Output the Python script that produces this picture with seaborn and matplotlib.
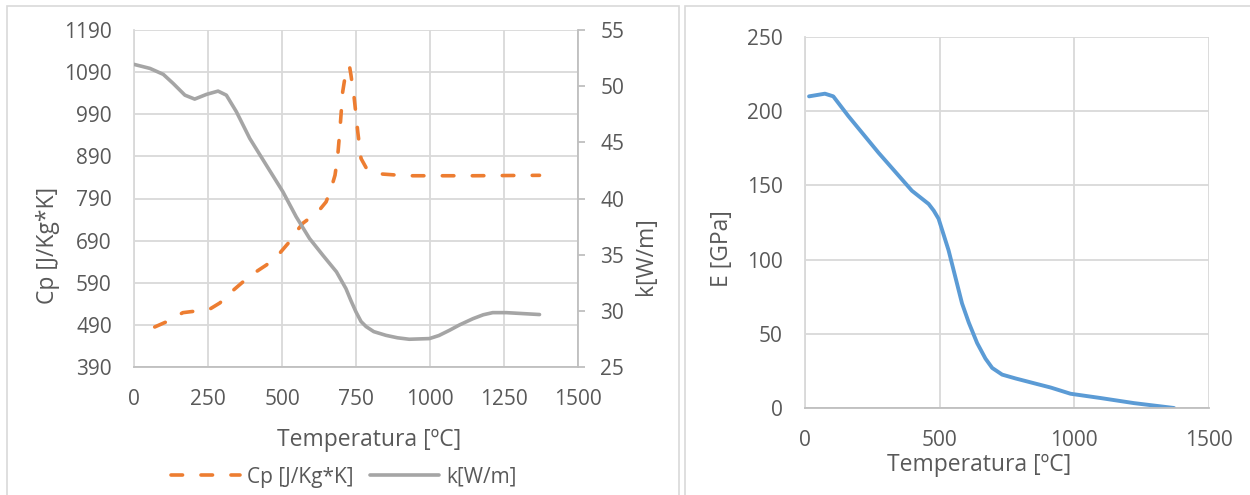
import matplotlib
matplotlib.use("Agg")
import matplotlib.pyplot as plt
from matplotlib.lines import Line2D
from matplotlib.patches import Rectangle
import seaborn as sns

# Specific heat Cp [J/Kg*K] vs temperature [ºC]
temp_cp = [70, 115, 165, 200, 255, 290, 335, 368, 408, 447, 486, 520, 548, 570,
           621, 649, 666, 679, 688, 696, 705, 714, 719, 724, 729, 733, 744, 756,
           767, 785, 801, 840, 919, 1020, 1144, 1370]
cp_vals = [485, 499, 519, 522, 527, 542, 572, 592, 614, 632, 655, 683, 711, 731,
           758, 782, 814, 845, 889, 956, 1043, 1083, 1100, 1105, 1100, 1083, 1028, 948,
           885, 862, 853, 848, 844, 844, 844, 845]

# Thermal conductivity k [W/m] vs temperature [ºC]
temp_k = [0, 54, 99, 132, 172, 205, 245, 284, 312, 346, 391, 447, 503, 548, 593,
          638, 684, 716, 733, 750, 767, 784, 810, 851, 890, 930, 998, 1030, 1066,
          1100, 1145, 1180, 1212, 1257, 1370]
k_vals = [51.94, 51.58, 51.05, 50.25, 49.2, 48.85, 49.27, 49.56, 49.2, 47.72, 45.35,
          42.97, 40.6, 38.37, 36.44, 34.95, 33.47, 31.98, 30.9, 29.9, 29.05, 28.6,
          28.15, 27.82, 27.6, 27.47, 27.53, 27.8, 28.27, 28.75, 29.3, 29.65, 29.84,
          29.84, 29.67]

# Young's modulus E [GPa] vs temperature [ºC]
temp_e = [15, 74, 105, 161, 273, 397, 459, 478, 496, 533, 558, 583, 608, 639, 670,
          695, 732, 782, 850, 912, 986, 1098, 1221, 1370]
e_vals = [210, 211.8, 210, 196.7, 172, 146.4, 137.5, 133, 127.5, 106.3, 88.4, 70.5,
          57.6, 43.8, 33.3, 27, 22.5, 19.9, 16.7, 13.8, 9.6, 6.7, 3.3, 0]

x_ticks_left = [0, 250, 500, 750, 1000, 1250, 1500]
cp_ticks = [390, 490, 590, 690, 790, 890, 990, 1090, 1190]
k_ticks = [25, 30, 35, 40, 45, 50, 55]
x_ticks_right = [0, 500, 1000, 1500]
e_ticks = [0, 50, 100, 150, 200, 250]

ORANGE = "#ED7D31"
GRAY = "#A5A5A5"
BLUE = "#5B9BD5"
TEXT = "#595959"
GRID = "#D9D9D9"
AXIS = "#BFBFBF"

sns.set_theme(style="white")
plt.rcParams["font.family"] = ["Open Sans", "DejaVu Sans"]
plt.rcParams["text.color"] = TEXT
plt.rcParams["axes.labelcolor"] = TEXT
plt.rcParams["xtick.color"] = TEXT
plt.rcParams["ytick.color"] = TEXT

W, H = 1250, 495
fig = plt.figure(figsize=(W / 100, H / 100), dpi=100)


def fbox(x0, y0, x1, y1):
    """Pixel box (top-left origin) -> figure fraction rect."""
    return [x0 / W, 1 - y1 / H, (x1 - x0) / W, (y1 - y0) / H]


# chart frames
fig.patches.append(Rectangle((7 / W, -0.02), (679 - 7) / W, 1 - 6 / H + 0.02,
                             transform=fig.transFigure, fill=False,
                             edgecolor=GRID, linewidth=1.2))
fig.patches.append(Rectangle((685 / W, -0.02), 0.6, 1 - 6 / H + 0.02,
                             transform=fig.transFigure, fill=False,
                             edgecolor=GRID, linewidth=1.2))

TICK_FS = 15
LABEL_FS = 16.5
LEGEND_FS = 15

# ---------------- left chart: Cp and k ----------------
ax = fig.add_axes(fbox(134, 30, 578, 367))
sns.lineplot(x=temp_cp, y=cp_vals, ax=ax, color=ORANGE, linewidth=2.6,
             linestyle=(0, (3.2, 5.1)), dash_capstyle="round", zorder=3)
ax.set_xlim(0, 1500)
ax.set_ylim(390, 1190)
ax.set_xticks(x_ticks_left)
ax.set_yticks(cp_ticks)
ax.grid(True, color=GRID, linewidth=1.3)
ax.set_axisbelow(True)
for side in ("top", "right"):
    ax.spines[side].set_visible(False)
ax.spines["left"].set_color(GRID)
ax.spines["left"].set_linewidth(1.3)
ax.spines["bottom"].set_color(AXIS)
ax.spines["bottom"].set_linewidth(1.3)
ax.tick_params(axis="both", length=0, labelsize=TICK_FS)
ax.tick_params(axis="x", pad=16)
ax.tick_params(axis="y", pad=16)
ax.set_xlabel("Temperatura [ºC]", fontsize=LABEL_FS, va="center")
ax.xaxis.set_label_coords(0.53, -0.217)
ax.set_ylabel("Cp [J/Kg*K]", fontsize=LABEL_FS, va="center")
ax.yaxis.set_label_coords(-0.193, 0.362)

ax2 = ax.twinx()
sns.lineplot(x=temp_k, y=k_vals, ax=ax2, color=GRAY, linewidth=2.6,
             solid_capstyle="round")
ax2.set_ylim(25, 55)
ax2.set_yticks(k_ticks)
for side in ("top", "left", "bottom"):
    ax2.spines[side].set_visible(False)
ax2.spines["right"].set_color(AXIS)
ax2.spines["right"].set_linewidth(1.3)
ax2.tick_params(axis="y", length=5, width=1.3, color=AXIS, labelsize=TICK_FS, pad=11)
ax2.grid(False)
ax2.set_ylabel("k[W/m]", fontsize=LABEL_FS, va="center", rotation=90)
ax2.yaxis.set_label_coords(1.1535, 0.329)

handles = [
    Line2D([], [], color=ORANGE, linewidth=2.6, linestyle=(0, (3.2, 5.1)),
           dash_capstyle="round"),
    Line2D([], [], color=GRAY, linewidth=2.6, solid_capstyle="round"),
]
fig.legend(handles, ["Cp [J/Kg*K]", "k[W/m]"], loc="center",
           bbox_to_anchor=(344 / W, 1 - 477 / H), ncol=2, frameon=False,
           fontsize=LEGEND_FS, handlelength=3.3, handletextpad=0.35,
           columnspacing=0.8, borderaxespad=0, borderpad=0)

# ---------------- right chart: E ----------------
bx = fig.add_axes(fbox(805, 37, 1209, 408))
sns.lineplot(x=temp_e, y=e_vals, ax=bx, color=BLUE, linewidth=2.8,
             solid_capstyle="round")
bx.set_xlim(0, 1500)
bx.set_ylim(0, 250)
bx.set_xticks(x_ticks_right)
bx.set_yticks(e_ticks)
bx.grid(True, color=GRID, linewidth=1.3)
bx.set_axisbelow(True)
for side in ("top", "right"):
    bx.spines[side].set_visible(False)
bx.spines["left"].set_color(GRID)
bx.spines["left"].set_linewidth(1.3)
bx.spines["bottom"].set_color(AXIS)
bx.spines["bottom"].set_linewidth(1.3)
bx.tick_params(axis="both", length=0, labelsize=TICK_FS)
bx.tick_params(axis="x", pad=16)
bx.tick_params(axis="y", pad=16)
bx.set_xlabel("Temperatura [ºC]", fontsize=LABEL_FS, va="center")
bx.xaxis.set_label_coords(0.43, -0.154)
bx.set_ylabel("E [GPa]", fontsize=LABEL_FS, va="center")
bx.yaxis.set_label_coords(-0.205, 0.43)

fig.savefig("out.png", dpi=100)
